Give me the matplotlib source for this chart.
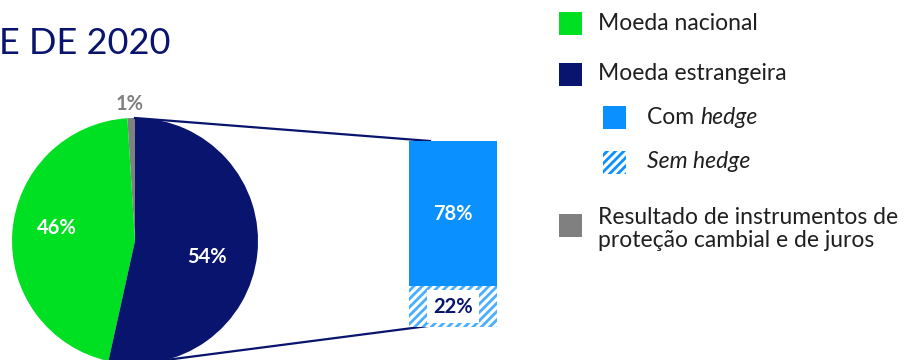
import matplotlib
matplotlib.use("Agg")
import matplotlib.pyplot as plt
from matplotlib.patches import Rectangle

plt.rcParams['font.family'] = ['Lato', 'DejaVu Sans']
plt.rcParams['hatch.linewidth'] = 2.0

# ---- data ----
title_text = "E DE 2020"
pie_labels = ["Resultado de instrumentos de\nproteção cambial e de juros", "Moeda nacional", "Moeda estrangeira"]
pie_values = [1, 46, 54]
pie_texts = ["1%", "46%", "54%"]
bar_labels = ["Sem hedge", "Com hedge"]
bar_values = [22, 78]
bar_texts = ["22%", "78%"]

GREEN = "#00E022"
NAVY = "#08146E"
BLUE = "#0A91FF"
GRAY = "#808080"
HATCH_BLUE = "#4AAEFF"

W, H = 906, 360
fig = plt.figure(figsize=(W / 100, H / 100), dpi=100)
ax = fig.add_axes([0, 0, 1, 1])

# pie (pixel coordinates, y downward)
cx, cy, r = 135, 241, 123
wedges, _ = ax.pie(pie_values, colors=[GRAY, GREEN, NAVY], startangle=-90,
                   counterclock=False, center=(cx, cy), radius=r,
                   wedgeprops=dict(linewidth=0))
ax.set_xlim(0, W)
ax.set_ylim(H, 0)
ax.set_aspect('equal')
ax.axis('off')

lfs = 14.5
ax.text(130, 104, pie_texts[0], color=GRAY, fontsize=lfs, fontweight='bold',
        ha='center', va='center')
ax.text(57, 228, pie_texts[1], color='white', fontsize=lfs, fontweight='bold',
        ha='center', va='center')
ax.text(207, 257, pie_texts[2], color='white', fontsize=lfs, fontweight='bold',
        ha='center', va='center')

# title
ax.text(-1, 43, title_text, color=NAVY, fontsize=26, ha='left', va='center')

# connector lines
ax.plot([135, 430], [118, 141], color=NAVY, lw=1.6, zorder=1)
ax.plot([135, 428], [364, 326], color=NAVY, lw=1.6, zorder=1)

# stacked bar in its own axes
bx0, bx1, by0, by1 = 409, 497, 141, 327
bax = fig.add_axes([bx0 / W, 1 - by1 / H, (bx1 - bx0) / W, (by1 - by0) / H])
bax.set_xlim(-0.5, 0.5)
bax.set_ylim(0, 100)
bax.axis('off')
bax.bar(0, bar_values[0], width=1, bottom=0, color='white', edgecolor=HATCH_BLUE,
        hatch='////', linewidth=0)
bax.bar(0, bar_values[1], width=1, bottom=bar_values[0], color=BLUE, linewidth=0)
bax.text(0, bar_values[0] + bar_values[1] / 2, bar_texts[1], color='white', fontsize=lfs,
         fontweight='bold', ha='center', va='center')
bax.text(0, bar_values[0] / 2, bar_texts[0], color=NAVY, fontsize=lfs,
         fontweight='bold', ha='center', va='center',
         bbox=dict(facecolor='white', edgecolor='none', boxstyle='square,pad=0.3'))

# legend
fs = 16.5
TXT = '#1f1f1f'
def sq(x, y, color, hatch=None):
    if hatch:
        ax.add_patch(Rectangle((x, y), 23, 23, facecolor='white', edgecolor=BLUE,
                               hatch=hatch, linewidth=0))
    else:
        ax.add_patch(Rectangle((x, y), 23, 23, facecolor=color, linewidth=0))

sq(559, 12, GREEN)
ax.text(598, 23, pie_labels[1], fontsize=fs, color=TXT, va='center', ha='left')
sq(559, 63, NAVY)
ax.text(598, 74, pie_labels[2], fontsize=fs, color=TXT, va='center', ha='left')
sq(603, 106, BLUE)
t1 = ax.text(647, 117, "Com ", fontsize=fs, color=TXT, va='center', ha='left')
sq(603, 151, None, hatch='////')
ax.text(647, 161, "Sem hedge", fontsize=fs, color=TXT, va='center', ha='left',
        style='italic')
sq(559, 214, GRAY)
ax.text(598, 229, pie_labels[0], fontsize=fs, color=TXT, va='center', ha='left',
        linespacing=1.15)

fig.canvas.draw()
bb = t1.get_window_extent(renderer=fig.canvas.get_renderer())
x_end = ax.transData.inverted().transform((bb.x1, bb.y0))[0]
ax.text(x_end, 117, "hedge", fontsize=fs, color=TXT, va='center', ha='left',
        style='italic')

fig.savefig("out.png", dpi=100)
